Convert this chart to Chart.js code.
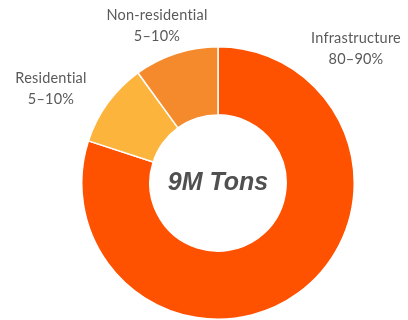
<!DOCTYPE html>
<html>
<head>
<meta charset="utf-8">
<script src="https://cdn.jsdelivr.net/npm/chart.js@4/dist/chart.umd.min.js"></script>
<style>
  html, body { margin: 0; padding: 0; background: #fff; }
  #wrap { width: 408px; height: 320px; }
</style>
</head>
<body>
<div id="wrap"><canvas id="tonsChart" width="408" height="320"></canvas></div>
<script>
// Share of tonnage by sector
const sectors = ['Infrastructure', 'Residential', 'Non-residential'];
const shares = [80, 10, 10];
const shareRanges = ['80–90%', '5–10%', '5–10%'];
const sliceColors = ['#FE5200', '#FDB43C', '#F58A2C'];
const totalLabel = '9M Tons';

// where each sector caption sits (x, y of first line)
const captionSpots = [
    { x: 356, y: 38 },
    { x: 51, y: 78 },
    { x: 157, y: 15 }
];

const captionPlugin = {
    id: 'captions',
    afterDraw(chart) {
        const ctx = chart.ctx;
        ctx.save();
        ctx.textAlign = 'center';
        ctx.textBaseline = 'middle';
        ctx.fillStyle = '#5a5a5a';
        ctx.font = '14.5px Lato, "Open Sans", sans-serif';
        ctx.letterSpacing = '0.2px'; // also keeps the "ti" ligature off
        sectors.forEach((name, i) => {
            const spot = captionSpots[i];
            ctx.fillText(name, spot.x, spot.y);
            ctx.fillText(shareRanges[i], spot.x, spot.y + 21);
        });

        // total in the hole
        const arc = chart.getDatasetMeta(0).data[0];
        ctx.letterSpacing = '0px';
        ctx.font = 'italic bold 25px "Liberation Sans", Arial, sans-serif';
        ctx.fillStyle = '#505050';
        ctx.fillText(totalLabel, arc.x, arc.y);
        ctx.restore();
    }
};

const ctx = document.getElementById('tonsChart').getContext('2d');
new Chart(ctx, {
    type: 'doughnut',
    data: {
        labels: sectors,
        datasets: [{
            data: shares,
            backgroundColor: sliceColors,
            borderColor: '#ffffff',
            borderWidth: 1.5
        }]
    },
    options: {
        responsive: false,
        animation: false,
        cutout: '50%',
        layout: {
            padding: { top: 46, left: 80, right: 52, bottom: -2 }
        },
        plugins: {
            legend: { display: false },
            tooltip: { enabled: false }
        }
    },
    plugins: [captionPlugin]
});
</script>
</body>
</html>
